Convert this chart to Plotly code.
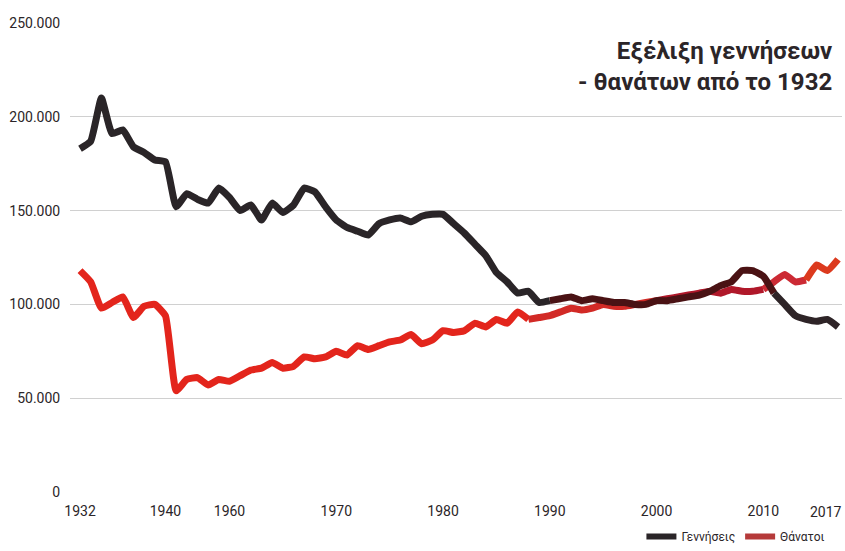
import plotly.graph_objects as go

years = [str(y) for y in list(range(1932, 1941)) + list(range(1955, 2018))]

births = [
    183000, 187000, 210000, 191000, 193000, 184000, 181000, 177000, 176000,  # 1932-1940
    152000, 159000, 156000, 154000, 162000, 157000, 150000, 153000, 145000, 154000,  # 1955-1964
    149000, 153000, 162000, 160000, 152000, 145000, 141000, 139000, 137000, 143000,  # 1965-1974
    145000, 146000, 144000, 147000, 148000, 148000, 143000, 138000, 132000, 126000,  # 1975-1984
    117000, 112000, 106000, 107000, 101000, 102000, 103000, 104000, 102000, 103000,  # 1985-1994
    102000, 101000, 101000, 100000, 100000, 102000, 102000, 103000, 104000, 105000,  # 1995-2004
    107000, 110000, 112000, 118000, 118000, 115000, 106000, 100000, 94000, 92000,    # 2005-2014
    91000, 92000, 88000,                                                             # 2015-2017
]

deaths = [
    118000, 112000, 98000, 101000, 104000, 93000, 99000, 100000, 94000,   # 1932-1940
    54000, 60000, 61000, 57000, 60000, 59000, 62000, 65000, 66000, 69000,  # 1955-1964
    66000, 67000, 72000, 71000, 72000, 75000, 73000, 78000, 76000, 78000,  # 1965-1974
    80000, 81000, 84000, 79000, 81000, 86000, 85000, 86000, 90000, 88000,  # 1975-1984
    92000, 90000, 96000, 92000, 93000, 94000, 96000, 98000, 97000, 98000,  # 1985-1994
    100000, 99000, 99000, 100000, 101000, 102000, 103000, 104000, 105000, 106000,  # 1995-2004
    107000, 106000, 108000, 107000, 107000, 108000, 112000, 116000, 112000, 113000,  # 2005-2014
    121000, 118000, 124000,                                                  # 2015-2017
]

tick_labels = ["1932", "1940", "1960", "1970", "1980", "1990", "2000", "2010", "2017"]
series_names = ["Γεννήσεις", "Θάνατοι"]
title_lines = ["Εξέλιξη γεννήσεων", "- θανάτων από το 1932"]

# colour bands along each line (start year, end year, colour)
births_bands = [("1932", "1990", "#2a2528"), ("1990", "2011", "#4a1214"),
                ("2011", "2017", "#2e2427")]
deaths_bands = [("1932", "1988", "#e3251c"), ("1988", "2000", "#d22a26"),
                ("2000", "2010", "#b0182a"), ("2010", "2014", "#cc2a34"),
                ("2014", "2017", "#dc3a1e")]
legend_colors = ["#2a2528", "#b53a3a"]

FONT = "Roboto, 'Liberation Sans Narrow', 'DejaVu Sans Condensed', sans-serif"
TXT = "#2b2528"

fig = go.Figure()


def add_banded(values, bands):
    for start, end, color in bands:
        i0, i1 = years.index(start), years.index(end)
        fig.add_trace(go.Scatter(
            x=years[i0:i1 + 1], y=values[i0:i1 + 1], mode="lines",
            showlegend=False, hoverinfo="skip",
            line=dict(color=color, width=7, shape="spline", smoothing=0.4),
        ))


add_banded(deaths, deaths_bands)
add_banded(births, births_bands)

for name, col in zip(series_names, legend_colors):
    fig.add_trace(go.Scatter(
        x=[years[0]], y=[None], mode="lines", name=name,
        line=dict(color=col, width=6),
    ))

fig.add_annotation(
    xref="paper", yref="paper", x=0.99, y=0.975, xanchor="right", yanchor="top",
    text="<b>" + title_lines[0] + "<br>" + title_lines[1] + "</b>",
    align="right", showarrow=False,
    font=dict(family=FONT, size=24, color=TXT),
)

# last tick label sits a little left of its data point (as in the original);
# category axes take the category index for annotations
fig.add_annotation(
    x=years.index(tick_labels[-1]), y=0, xref="x", yref="paper", yanchor="top",
    text=tick_labels[-1], showarrow=False, xshift=-12, yshift=-10,
    font=dict(family=FONT, size=14, color=TXT),
)

fig.update_layout(
    width=845, height=551,
    margin=dict(l=70, r=3, t=23, b=59, autoexpand=False),
    paper_bgcolor="white", plot_bgcolor="white",
    separators=",.",
    showlegend=True,
    legend=dict(
        orientation="h", x=0.985, xanchor="right",
        yref="container", y=-0.022, yanchor="bottom",
        font=dict(family=FONT, size=12, color=TXT),
        itemwidth=30, bgcolor="rgba(0,0,0,0)",
    ),
    xaxis=dict(
        type="category", range=[-0.94, 71.37], automargin=False,
        tickvals=tick_labels[:-1], ticktext=tick_labels[:-1],
        showgrid=False, zeroline=False, showline=False,
        ticks="outside", ticklen=6, tickcolor="rgba(0,0,0,0)",
        tickfont=dict(family=FONT, size=14, color=TXT),
    ),
    yaxis=dict(
        range=[0, 250000], tickvals=[0, 50000, 100000, 150000, 200000, 250000],
        tickformat=",d", showgrid=True, gridcolor="#d0d0d0", gridwidth=1,
        zeroline=False, showline=False, automargin=False,
        ticks="outside", ticklen=6, tickcolor="rgba(0,0,0,0)",
        tickfont=dict(family=FONT, size=14, color=TXT),
    ),
)

fig.write_html("out.html", config={"displayModeBar": False},
               post_script="document.body.style.margin='0px';")
